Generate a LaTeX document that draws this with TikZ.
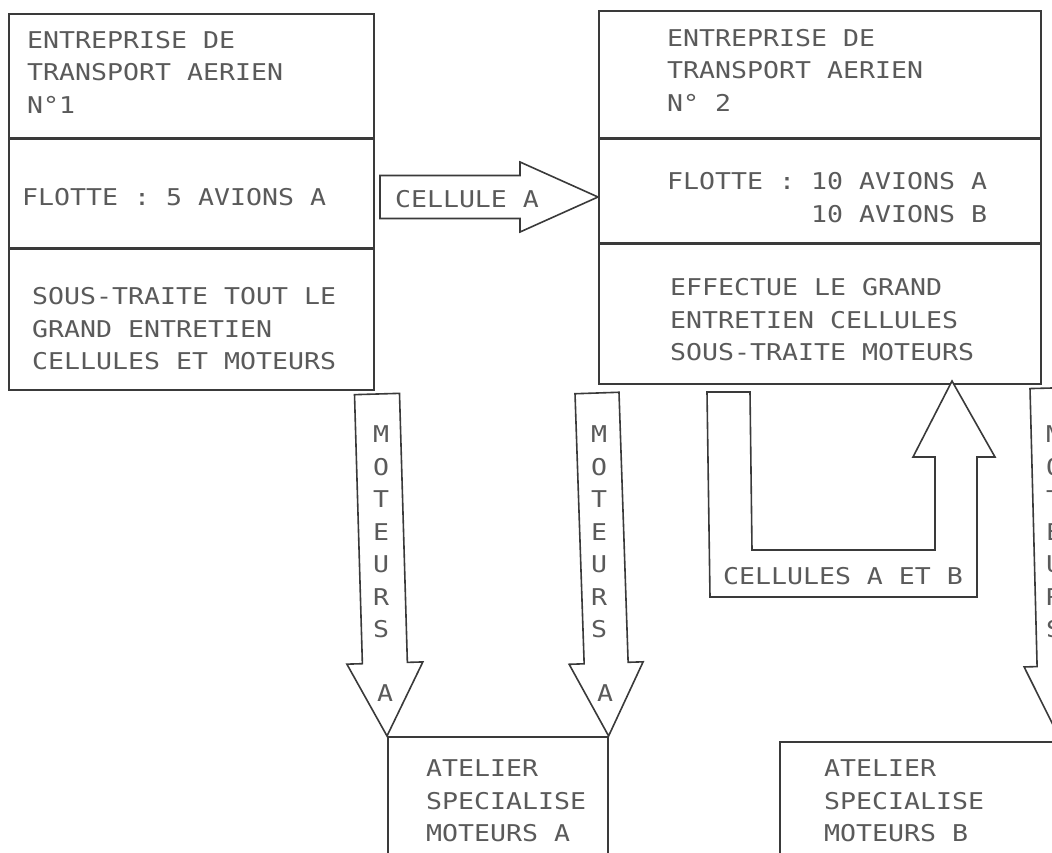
\documentclass[tikz,border=0pt]{standalone}
\usepackage{fontspec}
\newfontfamily\typo[FakeStretch=1.15]{DejaVu Sans Mono}
\usepackage{tikz}
\usetikzlibrary{positioning,calc}
\definecolor{ScanInk}{HTML}{3A3A3A}
\definecolor{ScanText}{HTML}{5A5A5A}

\begin{document}
\begin{tikzpicture}[x=1pt,y=-1pt,node distance=0pt,line join=miter]
  \tikzstyle{frame}=[draw=ScanInk,line width=1.6pt,anchor=north west,inner sep=0pt]
  \tikzstyle{txt}=[font=\typo\fontsize{23.1}{32.5}\selectfont,text=ScanText,
    align=left,anchor=west,inner sep=0pt]
  \tikzstyle{stack}=[txt,align=center,anchor=center]
  \tikzstyle{blk}=[draw=ScanInk,line width=1.6pt,fill=white]
  \tikzset{fat/.style n args={3}{to path={
    ($(\tikztotarget)!#3!(\tikztostart)$) coordinate (hb)
    ($(\tikztostart)!#1!90:(\tikztotarget)$)
    -- ($(hb)!#1!90:(\tikztotarget)$) -- ($(hb)!#2!90:(\tikztotarget)$)
    -- (\tikztotarget)
    -- ($(hb)!#2!-90:(\tikztotarget)$) -- ($(hb)!#1!-90:(\tikztotarget)$)
    -- ($(\tikztostart)!#1!-90:(\tikztotarget)$) -- cycle}}}
  \useasboundingbox (0,0) rectangle (1052,852);
  \fill[white] (0,0) rectangle (1052,852);
  \clip (0,0) rectangle (1052,852);

  \node[frame,minimum width=365pt,minimum height=124pt] (a1) at (8,13) {};
  \node[frame,minimum width=365pt,minimum height=108pt,below=of a1] (a2) {};
  \node[frame,minimum width=365pt,minimum height=141pt,below=of a2] (a3) {};
  \node[frame,minimum width=442pt,minimum height=127pt] (b1) at (598,10) {};
  \node[frame,minimum width=442pt,minimum height=103pt,below=of b1] (b2) {};
  \node[frame,minimum width=442pt,minimum height=140pt,below=of b2] (b3) {};
  \node[frame,minimum width=220pt,minimum height=140pt] (ma) at (387,736) {};
  \node[frame,minimum width=300pt,minimum height=140pt] (mb) at (779,741) {};

  \node[txt] (ta1) at (27,72) {ENTREPRISE DE\\TRANSPORT AERIEN\\N°1};
  \node[txt] (ta2) at (22,197) {FLOTTE : 5 AVIONS A};
  \node[txt] (ta3) at (32,329) {SOUS-TRAITE TOUT LE\\GRAND ENTRETIEN\\CELLULES ET MOTEURS};
  \node[txt] (tb1) at (667,70) {ENTREPRISE DE\\TRANSPORT AERIEN\\N° 2};
  \node[txt] (tb2) at (667,197.5) {FLOTTE : 10 AVIONS A\\\phantom{FLOTTE : }10 AVIONS B};
  \node[txt] (tb3) at (670,320) {EFFECTUE LE GRAND\\ENTRETIEN CELLULES\\SOUS-TRAITE MOTEURS};
  \node[txt] (tma) at (426,801) {ATELIER\\SPECIALISE\\MOTEURS A};
  \node[txt] (tmb) at (824,801) {ATELIER\\SPECIALISE\\MOTEURS B};

  \coordinate (ca) at (380,197);
  \coordinate (m1) at (377,394);
  \coordinate (m2) at (597,393);
  \coordinate (m3) at (1052,388);
  \draw[blk,fat={21.5pt}{35pt}{78pt}] (ca) to (ca -| b2.west);
  \draw[blk,fat={22.5pt}{38pt}{73pt}] (m1) to (ma.north west);
  \draw[blk,fat={22pt}{37pt}{73pt}] (m2) to (ma.north east);
  \draw[blk,fat={22pt}{35pt}{75pt}] (m3) to (1061,741);
  \draw[blk] (707,392) -- (750,392) -- (752,550) -- (935,550) -- (935,457)
    -- (913,457) -- (952,381) -- (995,457) -- (977,457) -- (977,597)
    -- (710,597) -- cycle;

  \node[txt,anchor=center] (lca) at (467,199) {CELLULE A};
  \node[txt,anchor=center] (lcb) at (843,576) {CELLULES A ET B};
  \node[stack] (l1) at (381,532) {M\\O\\T\\E\\U\\R\\S};
  \node[stack] (l1a) at (385,693) {A};
  \node[stack] (l2) at (599,532) {M\\O\\T\\E\\U\\R\\S};
  \node[stack] (l2a) at (605,693) {A};
  \node[stack] (l3) at (1054,532) {M\\O\\T\\E\\U\\R\\S};
  \node[stack] (l3a) at (1059,693) {B};
\end{tikzpicture}
\end{document}
